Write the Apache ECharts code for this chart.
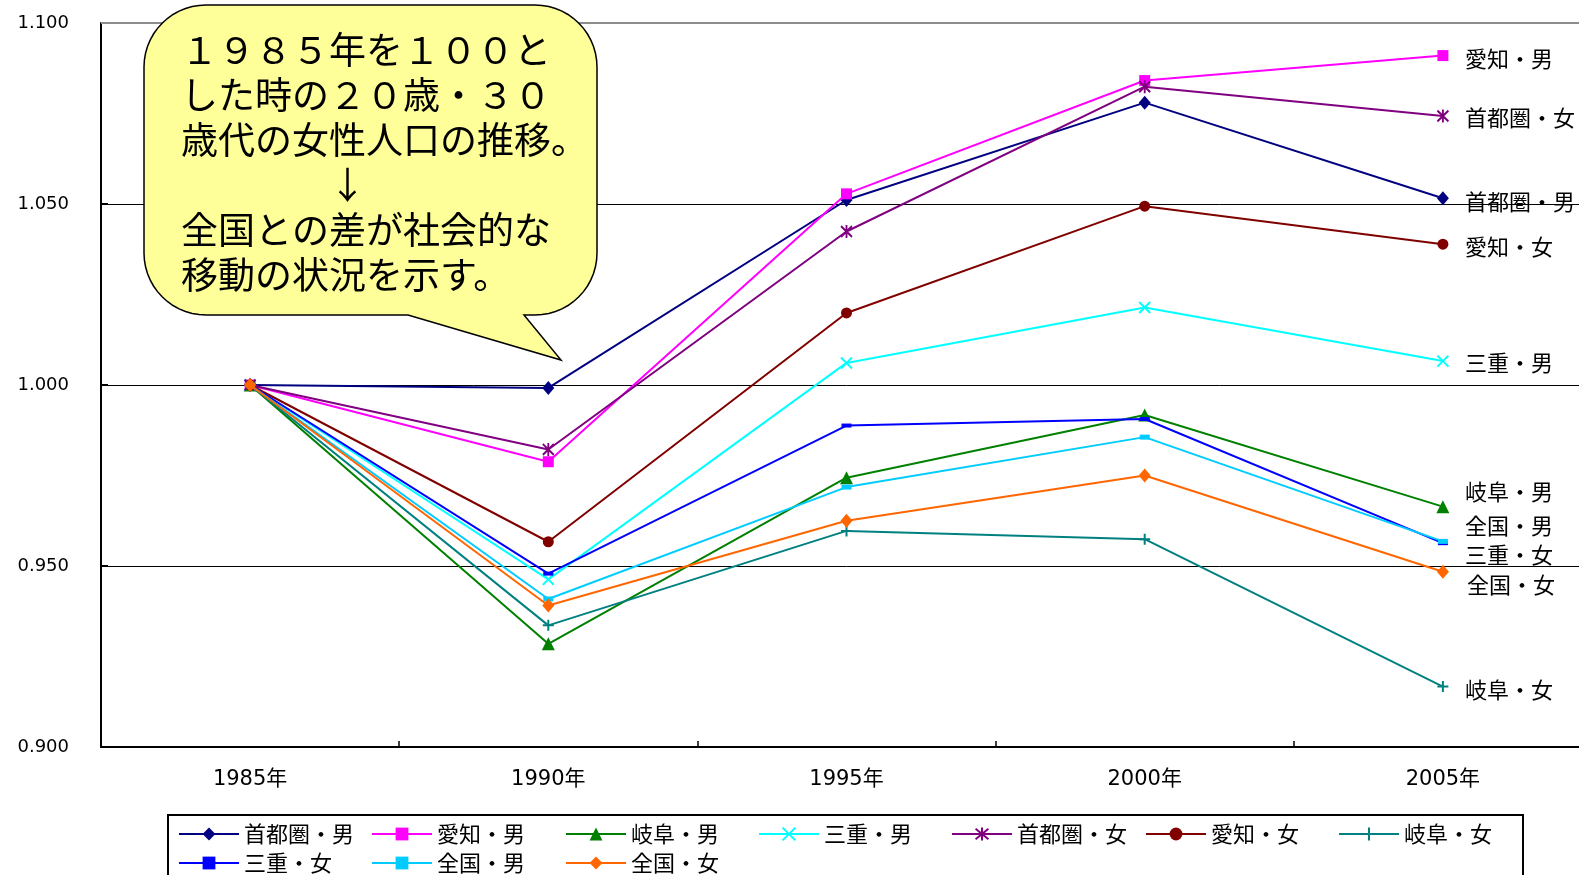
<!DOCTYPE html>
<html lang="ja">
<head>
<meta charset="utf-8">
<title>20歳・30歳代人口の推移</title>
<script src="https://cdn.jsdelivr.net/npm/echarts@6/dist/echarts.min.js"></script>
<style>
  html, body { margin: 0; padding: 0; background: #fff; overflow: hidden; }
  /* 描画領域の右端は画面の外へ少しはみ出す */
  #chart { width: 1592px; height: 875px; }
</style>
</head>
<body>
<div id="chart"></div>
<script>
// 年次（カテゴリ）
const years = ['1985年', '1990年', '1995年', '2000年', '2005年'];

// 1985年を1.000とした指数
const shutoMale   = [1.000, 0.9992, 1.0511, 1.0780, 1.0516];
const aichiMale   = [1.000, 0.9788, 1.0528, 1.0841, 1.0910];
const gifuMale    = [1.000, 0.9285, 0.9744, 0.9917, 0.9664];
const mieMale     = [1.000, 0.9463, 1.0061, 1.0214, 1.0066];
const shutoFemale = [1.000, 0.9822, 1.0424, 1.0824, 1.0743];
const aichiFemale = [1.000, 0.9567, 1.0199, 1.0494, 1.0389];
const gifuFemale  = [1.000, 0.9336, 0.9597, 0.9574, 0.9167];
const mieFemale   = [1.000, 0.9479, 0.9888, 0.9906, 0.9563];
const zenkokuMale   = [1.000, 0.9409, 0.9718, 0.9856, 0.9568];
const zenkokuFemale = [1.000, 0.9391, 0.9625, 0.9750, 0.9484];

// 縦軸の目盛
const yMin = 0.9, yMax = 1.1, yStep = 0.05;

const seriesNames = ['首都圏・男', '愛知・男', '岐阜・男', '三重・男', '首都圏・女',
                     '愛知・女', '岐阜・女', '三重・女', '全国・男', '全国・女'];
const seriesValues = [shutoMale, aichiMale, gifuMale, mieMale, shutoFemale,
                      aichiFemale, gifuFemale, mieFemale, zenkokuMale, zenkokuFemale];

const CJK = '"Noto Sans CJK JP", "Noto Sans CJK SC", sans-serif';

// 線の色・マーカー・右端ラベルのずれ
const styles = [
  { color: '#000080', symbol: 'diamond', size: [12, 14], stroke: false, dy: 3 },
  { color: '#FF00FF', symbol: 'rect', size: 11, stroke: false, dy: 3 },
  { color: '#008000', symbol: 'triangle', size: 13, stroke: false, dy: -15 },
  { color: '#00FFFF', symbol: 'path://M0,0L10,10M10,0L0,10', size: 11, stroke: true, dy: 2 },
  { color: '#800080', symbol: 'path://M0,1L10,11M10,1L0,11M5,0L5,12', size: [11, 13], stroke: true, dy: 2 },
  { color: '#800000', symbol: 'circle', size: 11, stroke: false, dy: 2 },
  { color: '#008080', symbol: 'path://M5,0L5,10M0,5L10,5', size: 11, stroke: true, dy: 3 },
  { color: '#0000FF', symbol: 'rect', size: [10, 4], stroke: false, dy: 11 },
  { color: '#00CCFF', symbol: 'rect', size: [10, 5], stroke: false, dy: -16 },
  { color: '#FF6600', symbol: 'diamond', size: [12, 14], stroke: false, dy: 13 }
];

const series = seriesNames.map((name, i) => {
  const s = styles[i];
  const item = {
    name: name,
    type: 'line',
    data: seriesValues[i],
    symbol: s.symbol,
    symbolSize: s.size,
    showSymbol: true,
    lineStyle: { color: s.color, width: 2 },
    itemStyle: s.stroke
      ? { color: s.color, borderColor: s.color, borderWidth: 2 }
      : { color: s.color, borderWidth: 0 },
    endLabel: {
      show: true,
      formatter: '{a}',
      offset: [i === 9 ? 16 : 14, s.dy],
      color: '#000',
      fontSize: 22,
      fontFamily: CJK
    },
    emphasis: { disabled: true },
    z: 2 + i
  };
  if (i === 0) {
    // 上端の枠線（灰色）
    item.markLine = {
      silent: true,
      symbol: 'none',
      label: { show: false },
      lineStyle: { color: '#8c8c8c', width: 2, type: 'solid' },
      data: [{ yAxis: yMax }],
      animation: false
    };
  }
  return item;
});

// 凡例（2段、列位置を固定）
const legendCols = [178, 371, 565, 758, 951, 1145, 1338];
const legendRows = [823, 852];
const legends = seriesNames.map((name, i) => ({
  data: [name],
  left: legendCols[i % 7],
  top: legendRows[Math.floor(i / 7)],
  padding: 0,
  itemWidth: 60,
  itemHeight: 16,
  textStyle: { color: '#000', fontSize: 22, fontFamily: CJK },
  selectedMode: false
}));

// 吹き出しの輪郭（角丸の四角形＋しっぽ）
function calloutOutline(x0, y0, x1, y1, r, tail) {
  const pts = [];
  const arc = (cx, cy, a0, a1) => {
    const n = 14;
    for (let k = 0; k <= n; k++) {
      const a = a0 + (a1 - a0) * k / n;
      pts.push([cx + r * Math.cos(a), cy + r * Math.sin(a)]);
    }
  };
  const P = Math.PI;
  arc(x0 + r, y0 + r, P, 1.5 * P);          // 左上
  arc(x1 - r, y0 + r, 1.5 * P, 2 * P);      // 右上
  arc(x1 - r, y1 - r, 0, 0.5 * P);          // 右下
  pts.push([tail[0], y1], [tail[1], tail[2]], [tail[3], y1]);
  arc(x0 + r, y1 - r, 0.5 * P, P);          // 左下
  return pts;
}

const calloutText = '１９８５年を１００と\nした時の２０歳・３０\n歳代の女性人口の推移。\n　　　　↓\n全国との差が社会的な\n移動の状況を示す。';

const chart = echarts.init(document.getElementById('chart'), null, { renderer: 'canvas' });
chart.setOption({
  animation: false,
  backgroundColor: '#fff',
  grid: { left: 101, top: 23, right: 0, bottom: 128, containLabel: false },
  xAxis: {
    type: 'category',
    data: years,
    boundaryGap: true,
    axisLine: { lineStyle: { color: '#000', width: 2 } },
    axisTick: { show: true, inside: true, length: 6, lineStyle: { color: '#000', width: 1.5 } },
    axisLabel: { color: '#000', fontSize: 21, fontFamily: '"DejaVu Sans", ' + CJK, margin: 22 },
    splitLine: { show: false }
  },
  yAxis: {
    type: 'value',
    min: yMin,
    max: yMax,
    interval: yStep,
    axisLine: { show: true, lineStyle: { color: '#000', width: 2 } },
    axisTick: { show: true, inside: true, length: 7, lineStyle: { color: '#000', width: 2 } },
    axisLabel: {
      color: '#000', fontSize: 18, fontFamily: '"DejaVu Sans"', margin: 32,
      formatter: v => v.toFixed(3)
    },
    splitLine: { show: true, lineStyle: { color: ['#000', '#000', '#000', '#000', '#8c8c8c'], width: 1 } }
  },
  legend: legends,
  series: series,
  graphic: [
    {
      type: 'rect',
      z: 50,
      shape: { x: 168, y: 815, width: 1355, height: 100 },
      style: { fill: 'none', stroke: '#000', lineWidth: 2 },
      silent: true
    },
    {
      type: 'polygon',
      z: 100,
      shape: { points: calloutOutline(144, 5, 597, 315, 62, [524, 561, 360, 408]) },
      style: { fill: '#FFFF99', stroke: '#000', lineWidth: 1.5 },
      silent: true
    },
    {
      type: 'text',
      z: 101,
      x: 181,
      y: 27,
      style: {
        text: calloutText,
        fill: '#000',
        fontSize: 37,
        fontFamily: CJK,
        lineHeight: 45
      },
      silent: true
    }
  ]
});
</script>
</body>
</html>
